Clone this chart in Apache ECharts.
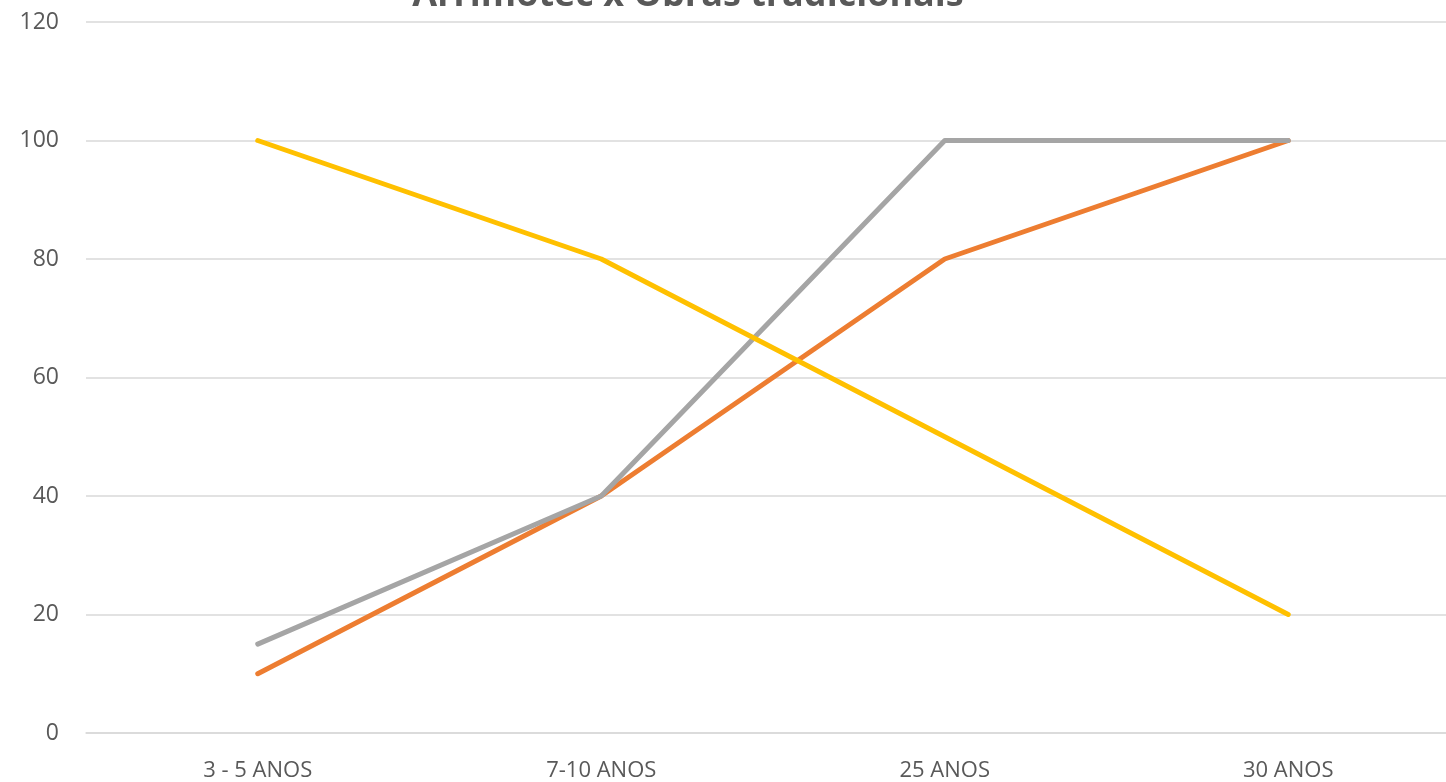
<!DOCTYPE html>
<html>
<head>
<meta charset="utf-8">
<script src="https://cdn.jsdelivr.net/npm/echarts@6/dist/echarts.min.js"></script>
<style>html,body{margin:0;padding:0;background:#fff;overflow:hidden;width:1446px;height:782px;}#c{width:1460px;height:782px;}</style>
</head>
<body>
<div id="c"></div>
<script>
const titleText = 'Arrimotec x Obras tradicionais';
const categories = ['3 - 5 ANOS', '7-10 ANOS', '25 ANOS', '30 ANOS'];
const orangeValues = [10, 40, 80, 100];
const grayValues = [15, 40, 100, 100];
const yellowValues = [100, 80, 50, 20];

const chart = echarts.init(document.getElementById('c'), null, {renderer: 'canvas'});
const mk = (name, data, color) => ({
  name, type: 'line', data, symbol: 'none', smooth: false,
  lineStyle: {color, width: 5, cap: 'round', join: 'round'},
  itemStyle: {color},
  animation: false
});
chart.setOption({
  animation: false,
  graphic: [{
    type: 'text', x: 688, y: 14, silent: true, z: 100,
    style: {text: titleText, align: 'center', verticalAlign: 'bottom',
      fontFamily: 'Open Sans', fontWeight: 'bold', fontSize: 36, fill: '#595959'}
  }],
  grid: {left: 86, top: 22, right: 0, bottom: 48, containLabel: false},
  xAxis: {
    type: 'category', data: categories, boundaryGap: true,
    axisLine: {show: true, lineStyle: {color: '#d9d9d9', width: 1.5}},
    axisTick: {show: false},
    axisLabel: {fontFamily: 'Open Sans', fontSize: 22, color: '#595959', margin: 27}
  },
  yAxis: {
    type: 'value', min: 0, max: 120, interval: 20,
    axisLine: {show: false}, axisTick: {show: false},
    splitLine: {lineStyle: {color: '#d9d9d9', width: 1.5}},
    axisLabel: {fontFamily: 'Open Sans', fontSize: 23, color: '#595959', margin: 27}
  },
  series: [
    mk('Orange', orangeValues, '#ED7D31'),
    mk('Gray', grayValues, '#A5A5A5'),
    mk('Yellow', yellowValues, '#FFC000')
  ]
});
</script>
</body>
</html>
